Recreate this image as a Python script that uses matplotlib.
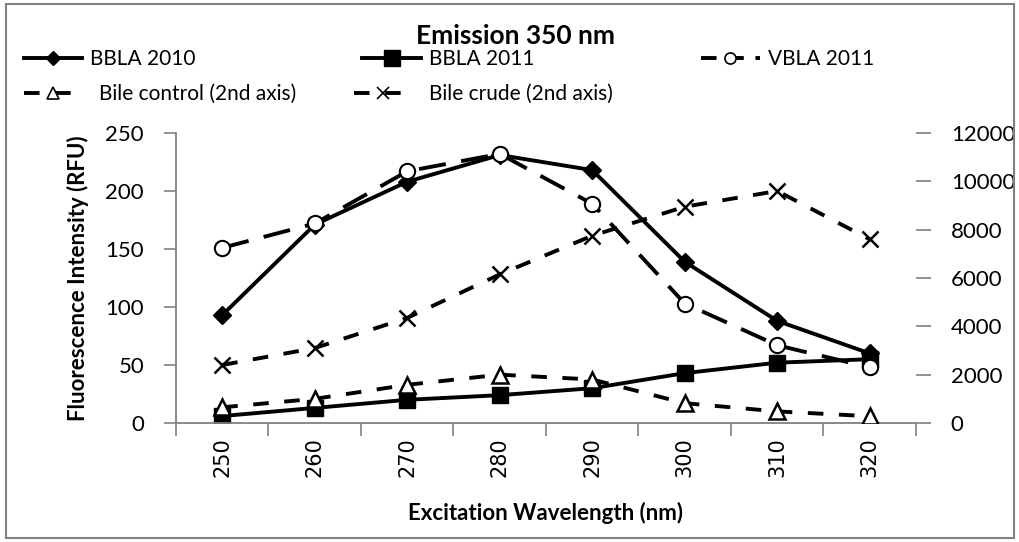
import matplotlib
matplotlib.use("Agg")
import matplotlib.pyplot as plt
from matplotlib.lines import Line2D

wavelengths = [250, 260, 270, 280, 290, 300, 310, 320]
bbla_2010 = [93, 171, 208, 231, 218, 139, 88, 60]
bbla_2011 = [6, 13, 20, 24, 30, 43, 52, 55]
vbla_2011 = [151, 172, 217, 232, 189, 103, 67, 48]
bile_control = [650, 1000, 1580, 2000, 1800, 820, 480, 280]
bile_crude = [2400, 3100, 4350, 6150, 7750, 8950, 9600, 7600]

left_ticks = [0, 50, 100, 150, 200, 250]
right_ticks = [0, 2000, 4000, 6000, 8000, 10000, 12000]

FONT = ["Lato", "DejaVu Sans"]
plt.rcParams["font.family"] = FONT

fig = plt.figure(figsize=(10.2, 5.42), dpi=100)
ax = fig.add_axes([176 / 1020, 1 - 423 / 542, (916 - 176) / 1020, (423 - 133) / 542])
ax2 = ax.twinx()

x = list(range(len(wavelengths)))
lw = 2.8

ax.plot(x, bbla_2010, color="black", lw=lw, marker="D", ms=9, mfc="black", mec="black")
ax.plot(x, bbla_2011, color="black", lw=lw, marker="s", ms=12, mfc="black", mec="black")
ax.plot(x, vbla_2011, color="black", lw=lw, dashes=(7, 4), marker="o", ms=11,
        mfc="white", mec="black", mew=1.5)
ax2.plot(x, bile_control, color="black", lw=lw, dashes=(4, 4), marker="^", ms=12,
         mfc="white", mec="black", mew=1.8)
ax2.plot(x, bile_crude, color="black", lw=lw, dashes=(4, 4), marker="x", ms=12,
         mec="black", mew=1.8)

ax.set_xlim(-0.5, len(x) - 0.5)
ax.set_ylim(0, 250)
ax2.set_ylim(0, 12000)
ax.set_yticks(left_ticks)
ax2.set_yticks(right_ticks)

# category axis: ticks sit between categories, labels under the centres
ax.set_xticks([i - 0.5 for i in range(len(x) + 1)])
ax.set_xticklabels([])
ax.set_xticks(x, minor=True)
ax.set_xticklabels([str(w) for w in wavelengths], minor=True, rotation=90,
                   fontsize=15, family=["DejaVu Sans"])
ax.tick_params(axis="x", which="minor", length=0, pad=10)
ax.tick_params(axis="x", which="major", length=9, color="#808080", width=1.2)
ax.tick_params(axis="y", length=9, color="#808080", width=1.2, labelsize=16, pad=14)
ax2.tick_params(axis="y", length=11, color="#808080", width=1.2, labelsize=16, pad=14)

for side in ["top", "right"]:
    ax.spines[side].set_visible(False)
for side in ["top", "right", "left", "bottom"]:
    ax2.spines[side].set_visible(False)
ax.spines["left"].set_color("#808080")
ax.spines["bottom"].set_color("#808080")
ax.spines["left"].set_linewidth(1.3)
ax.spines["bottom"].set_linewidth(1.3)

ax.set_ylabel("Fluorescence Intensity (RFU)", fontsize=16, fontweight="bold", labelpad=12)
ax.set_xlabel("Excitation Wavelength (nm)", fontsize=16, fontweight="bold", labelpad=18)

fig.text(0.505, 1 - 36 / 542, "Emission 350 nm", ha="center", va="center",
         fontsize=19, fontweight="bold")

handles = [
    Line2D([], [], color="black", lw=lw, marker="D", ms=7, mfc="black"),
    Line2D([], [], color="black", lw=lw, marker="s", ms=11, mfc="black"),
    Line2D([], [], color="black", lw=lw, dashes=(4, 3), marker="o", ms=8, mfc="white", mew=1.2),
    Line2D([], [], color="black", lw=lw, dashes=(4, 4), marker="^", ms=8, mfc="white", mew=1.2),
    Line2D([], [], color="black", lw=lw, dashes=(4, 4), marker="x", ms=8, mew=1.2),
]
labels = ["BBLA 2010", "BBLA 2011", "VBLA 2011",
          "Bile control (2nd axis)", "Bile crude (2nd axis)"]
fig.legend(handles[:3], labels[:3], loc="center left", bbox_to_anchor=(0.015, 1 - 59 / 542),
           ncol=3, frameon=False, fontsize=15, handlelength=2.8, handletextpad=0.4,
           columnspacing=8.0, borderaxespad=0)
fig.legend(handles[3:], labels[3:], loc="center left", bbox_to_anchor=(0.015, 1 - 94 / 542),
           ncol=2, frameon=False, fontsize=15, handlelength=2.8, handletextpad=0.8,
           columnspacing=2.8, borderaxespad=0)

# outer chart border
fig.patches.append(plt.Rectangle((0.006, 0.008), 0.988, 0.984, transform=fig.transFigure,
                                 fill=False, edgecolor="#808080", lw=1.5))

fig.savefig("out.png", dpi=100)
